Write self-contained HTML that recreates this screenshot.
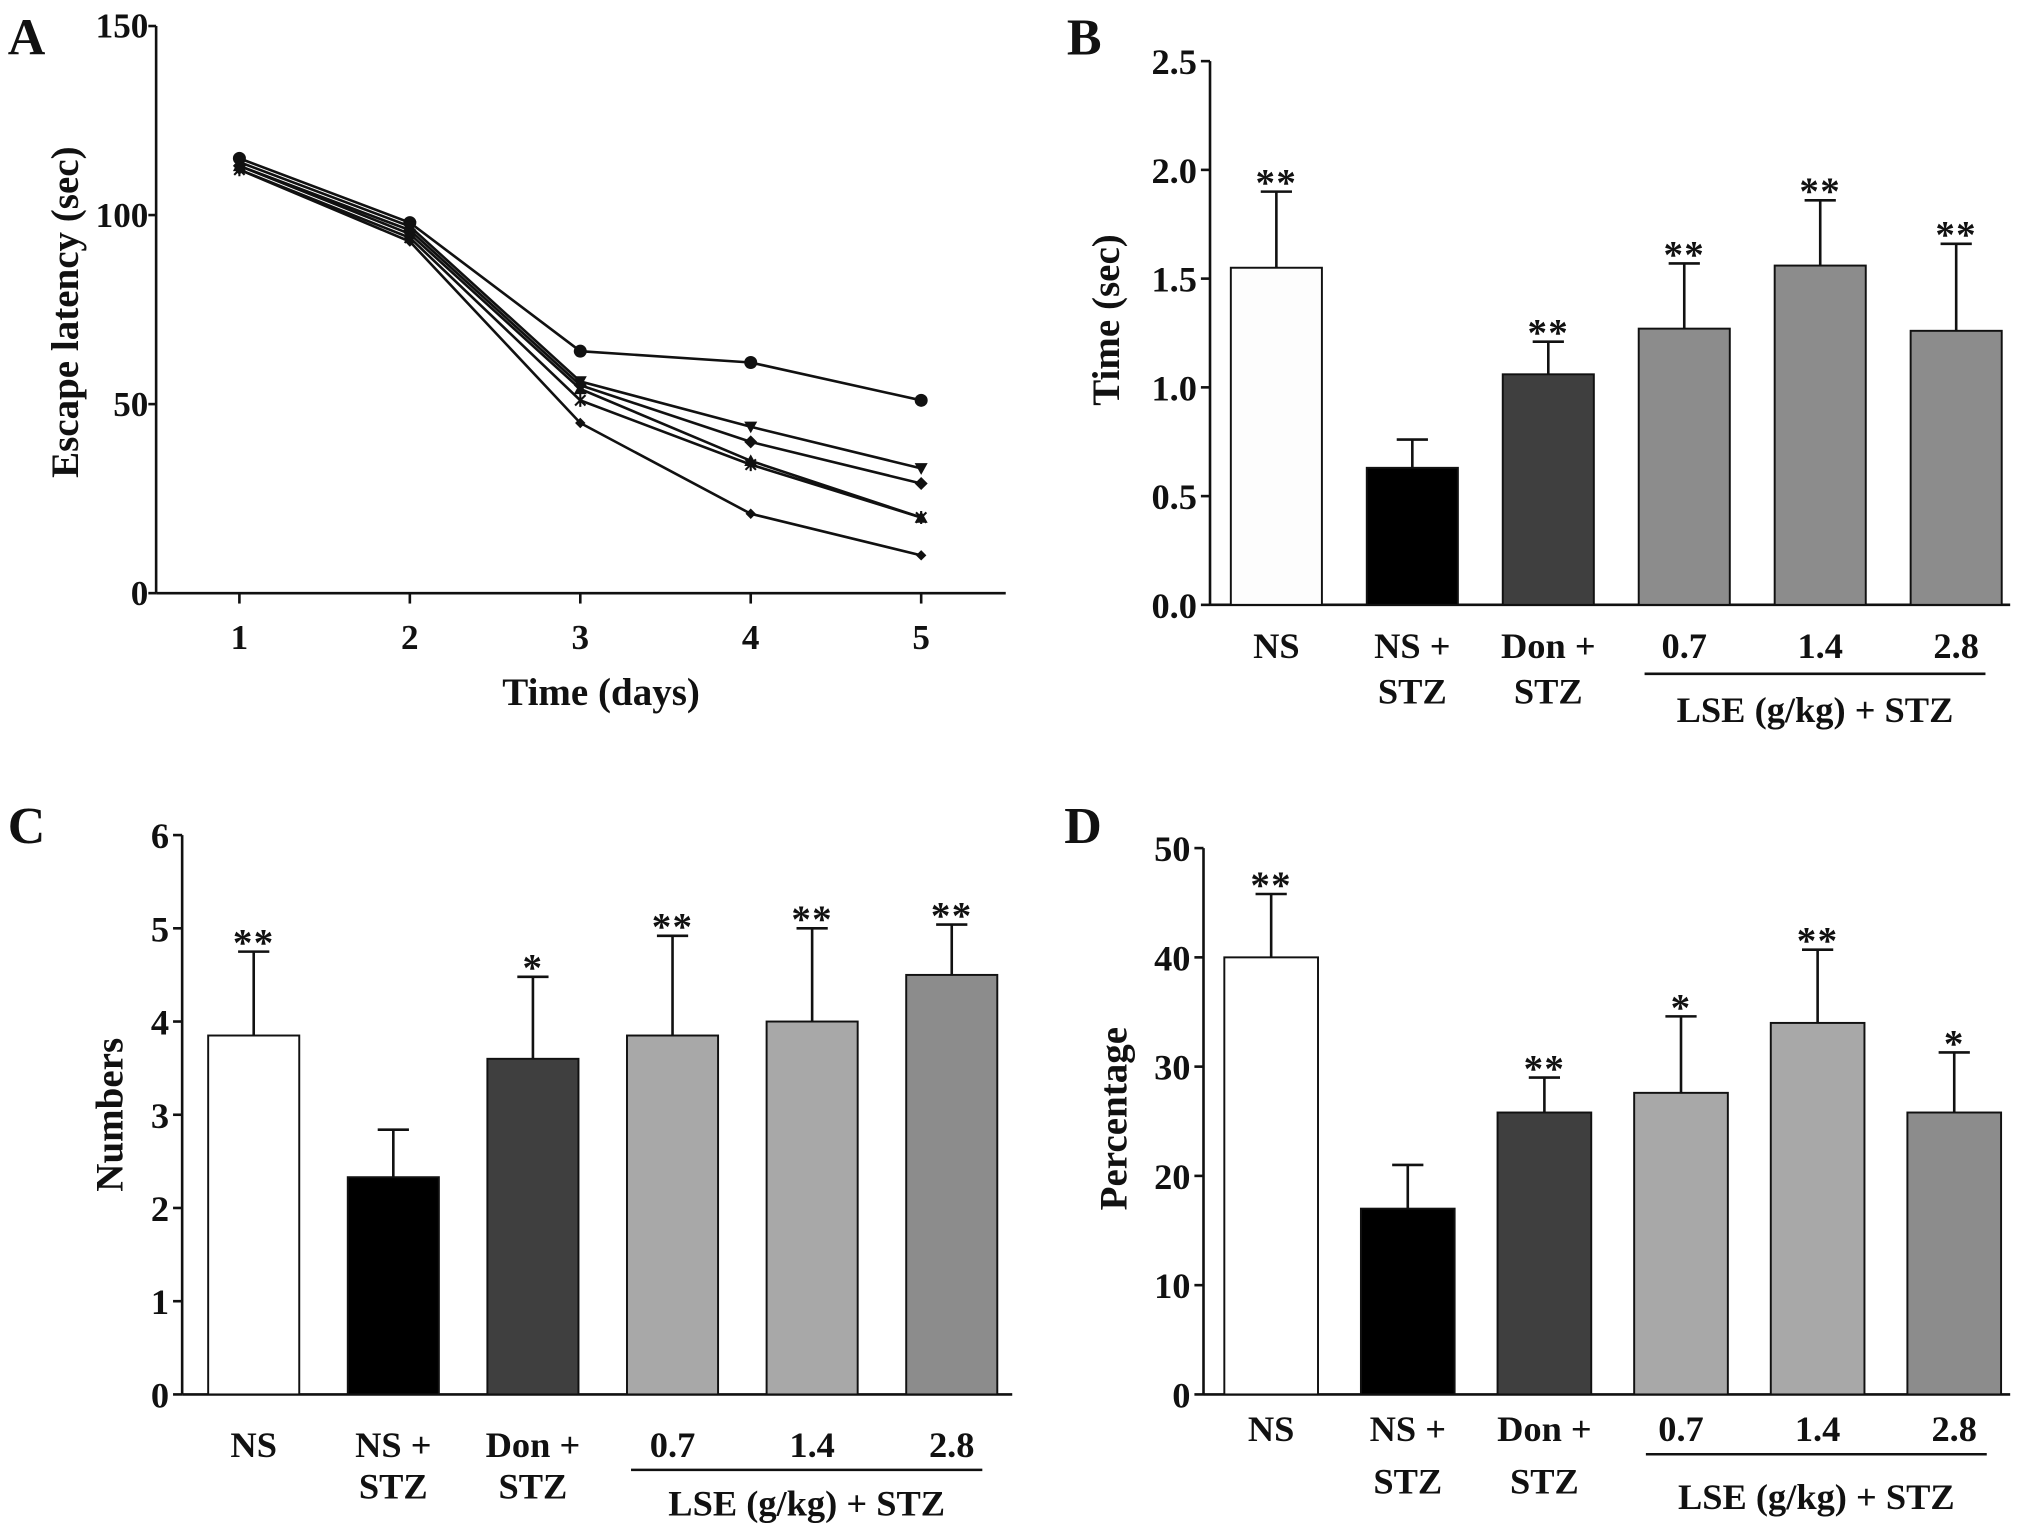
<!DOCTYPE html>
<html><head><meta charset="utf-8"><style>
html,body{margin:0;padding:0;background:#fff;}
svg{display:block;}
text{font-family:"Liberation Serif",serif;font-weight:bold;fill:#111;}
</style></head><body>
<svg id="fig" width="2031" height="1531" viewBox="0 0 1561 1177" preserveAspectRatio="none" xmlns="http://www.w3.org/2000/svg"></svg>
<script>
// Panel A data
const daysA = [1,2,3,4,5];
const yTicksA = [0,50,100,150];
const seriesA1 = [115,98,64,61,51];
const seriesA2 = [114,97,56,44,33];
const seriesA3 = [113,96,55,40,29];
const seriesA4 = [113,95,54,35,20];
const seriesA5 = [112,94,51,34,20];
const seriesA6 = [112,93,45,21,10];
const markersA = ['circle','tridown','diamond','triup','star','smalldiamond'];
// Panel B data
const groups = ['NS','NS +|STZ','Don +|STZ','0.7','1.4','2.8'];
const valuesB = [1.55,0.63,1.06,1.27,1.56,1.26];
const errorsB = [1.90,0.76,1.21,1.57,1.86,1.66];
const starsB = ['**','','**','**','**','**'];
const yTicksB = ['0.0','0.5','1.0','1.5','2.0','2.5'];
// Panel C data
const valuesC = [3.85,2.33,3.6,3.85,4.0,4.5];
const errorsC = [4.75,2.84,4.48,4.92,5.0,5.04];
const starsC = ['**','','*','**','**','**'];
const yTicksC = ['0','1','2','3','4','5','6'];
// Panel D data
const valuesD = [40,17,25.8,27.6,34,25.8];
const errorsD = [45.8,21,29,34.6,40.7,31.3];
const starsD = ['**','','**','*','**','*'];
const yTicksD = ['0','10','20','30','40','50'];

const NS='http://www.w3.org/2000/svg';
const svg=document.getElementById('fig');
function mk(tag,attrs,parent){const e=document.createElementNS(NS,tag);for(const k in attrs)e.setAttribute(k,attrs[k]);(parent||svg).appendChild(e);return e;}
function txt(s,x,y,size,parent,anchor,rot){const t=mk('text',{x:x,y:y,'font-size':size,'text-anchor':anchor||'middle'},parent);if(rot)t.setAttribute('transform','rotate(-90 '+x+' '+y+')');t.textContent=s;return t;}

// ---------- Panel A ----------
const gA=mk('g',{});


const axA={x0:120,y0:456,yTop:20,xEnd:773,xmin:1,xmax:5,px1:184,px5:708,ymax:150};
const xA=v=>axA.px1+(v-axA.xmin)*(axA.px5-axA.px1)/(axA.xmax-axA.xmin);
const yA=v=>axA.y0-v*(axA.y0-axA.yTop)/axA.ymax;
let l=mk('line',{x1:axA.x0,y1:axA.yTop,x2:axA.x0,y2:axA.y0,stroke:'#111','stroke-width':2},gA);

l=mk('line',{x1:axA.x0,y1:axA.y0,x2:axA.xEnd,y2:axA.y0,stroke:'#111','stroke-width':2},gA);

yTicksA.forEach(v=>{mk('line',{x1:axA.x0-6,y1:yA(v),x2:axA.x0,y2:yA(v),stroke:'#111','stroke-width':2},gA);
 const t=txt(String(v),axA.x0-6,yA(v)+9,27,gA,'end');});
daysA.forEach(d=>{mk('line',{x1:xA(d),y1:axA.y0,x2:xA(d),y2:axA.y0+8,stroke:'#111','stroke-width':2},gA);
 const t=txt(String(d),xA(d),axA.y0+43,27,gA);});
let t=txt('Time (days)',462,542,30,gA);
t=txt('Escape latency (sec)',60,240,30,gA,'middle',true);
t=txt('A',6,42,40,gA,'start');
function marker(type,x,y,g){
 if(type==='circle')return mk('circle',{cx:x,cy:y,r:5,fill:'#111'},g);
 if(type==='tridown')return mk('polygon',{points:`${x-5},${y-4} ${x+5},${y-4} ${x},${y+5}`,fill:'#111'},g);
 if(type==='triup')return mk('polygon',{points:`${x-5},${y+4} ${x+5},${y+4} ${x},${y-5}`,fill:'#111'},g);
 if(type==='diamond')return mk('polygon',{points:`${x},${y-5} ${x+5},${y} ${x},${y+5} ${x-5},${y}`,fill:'#111'},g);
 if(type==='smalldiamond')return mk('polygon',{points:`${x},${y-4} ${x+4},${y} ${x},${y+4} ${x-4},${y}`,fill:'#111'},g);
 return mk('path',{d:`M${x-4} ${y-4}L${x+4} ${y+4}M${x+4} ${y-4}L${x-4} ${y+4}M${x} ${y-5}L${x} ${y+5}`,stroke:'#111','stroke-width':1.6},g);
}
[seriesA1,seriesA2,seriesA3,seriesA4,seriesA5,seriesA6].forEach((s,i)=>{
 const pts=s.map((v,j)=>xA(daysA[j])+','+yA(v)).join(' ');
 const pl=mk('polyline',{points:pts,fill:'none',stroke:'#111','stroke-width':2},gA);
 
 
 s.forEach((v,j)=>{const m=marker(markersA[i],xA(daysA[j]),yA(v),gA);
  
  });
});

// ---------- Bar panels ----------
function barPanel(cfg){
 const g=mk('g',{});
 
 
 const ymax=parseFloat(cfg.ticks[cfg.ticks.length-1]);
 const y=v=>cfg.y0-v*(cfg.y0-cfg.yTop)/ymax;
 let e=mk('line',{x1:cfg.x0,y1:cfg.yTop,x2:cfg.x0,y2:cfg.y0,stroke:'#111','stroke-width':2},g);
 
 e=mk('line',{x1:cfg.x0,y1:cfg.y0,x2:cfg.xEnd,y2:cfg.y0,stroke:'#111','stroke-width':2},g);
 
 cfg.ticks.forEach(s=>{const v=parseFloat(s);mk('line',{x1:cfg.x0-7,y1:y(v),x2:cfg.x0,y2:y(v),stroke:'#111','stroke-width':2},g);
  const tt=txt(s,cfg.x0-10,y(v)+10,28,g,'end');});
 cfg.values.forEach((v,i)=>{
  const bx=cfg.bx0+i*cfg.pitch, cx=bx+cfg.bw/2;
  const r=mk('rect',{x:bx,y:y(v),width:cfg.bw,height:cfg.y0-y(v),fill:cfg.fills[i],stroke:'#111','stroke-width':1.5},g);
  
  
  const eb=mk('path',{d:`M${cx} ${y(v)}L${cx} ${y(cfg.errors[i])}M${cx-12} ${y(cfg.errors[i])}L${cx+12} ${y(cfg.errors[i])}`,stroke:'#111','stroke-width':2,fill:'none'},g);
  
  
  if(cfg.stars[i]){const st=txt(cfg.stars[i],cx,y(cfg.errors[i])+3,30,g);st.setAttribute('fill','#333');st.setAttribute('letter-spacing','1');
   
   }
  const lines=groups[i].split('|');
  lines.forEach((ln,k)=>{const lt=txt(ln,cx,cfg.lab1+k*cfg.labGap,28,g);
   
   });
 });
 e=mk('line',{x1:cfg.ul[0],y1:cfg.ul[2],x2:cfg.ul[1],y2:cfg.ul[2],stroke:'#111','stroke-width':2},g);
 
 e=txt('LSE (g/kg) + STZ',(cfg.ul[0]+cfg.ul[1])/2,cfg.ul[3],28,g);
 
 e=txt(cfg.title,cfg.titleX,cfg.titleY,30,g,'middle',true);
 
 e=txt(cfg.letter,cfg.letterX,cfg.letterY,40,g,'start');
 
}
barPanel({name:'panel-b-bar-chart',x0:930,y0:465,yTop:47,xEnd:1545,bx0:946,pitch:104.5,bw:70,
 values:valuesB,errors:errorsB,stars:starsB,ticks:yTicksB,
 fills:['#fdfdfd','#000','#3f3f3f','#8c8c8c','#8c8c8c','#8c8c8c'],
 lab1:506,labGap:35,ul:[1264,1526,518,555],title:'Time (sec)',titleX:860,titleY:246,letter:'B',letterX:820,letterY:42});
barPanel({name:'panel-c-bar-chart',x0:140,y0:1072,yTop:642,xEnd:778,bx0:160,pitch:107.3,bw:70,
 values:valuesC,errors:errorsC,stars:starsC,ticks:yTicksC,
 fills:['#fff','#000','#3f3f3f','#a8a8a8','#a8a8a8','#8c8c8c'],
 lab1:1120,labGap:32,ul:[485,755,1130,1165],title:'Numbers',titleX:94,titleY:857,letter:'C',letterX:6,letterY:648});
barPanel({name:'panel-d-bar-chart',x0:925,y0:1072,yTop:652,xEnd:1545,bx0:941,pitch:105,bw:72,
 values:valuesD,errors:errorsD,stars:starsD,ticks:yTicksD,
 fills:['#fff','#000','#3f3f3f','#a8a8a8','#a8a8a8','#8c8c8c'],
 lab1:1108,labGap:40,ul:[1265,1527,1118,1160],title:'Percentage',titleX:866,titleY:860,letter:'D',letterX:818,letterY:648});
</script>
</body></html>
